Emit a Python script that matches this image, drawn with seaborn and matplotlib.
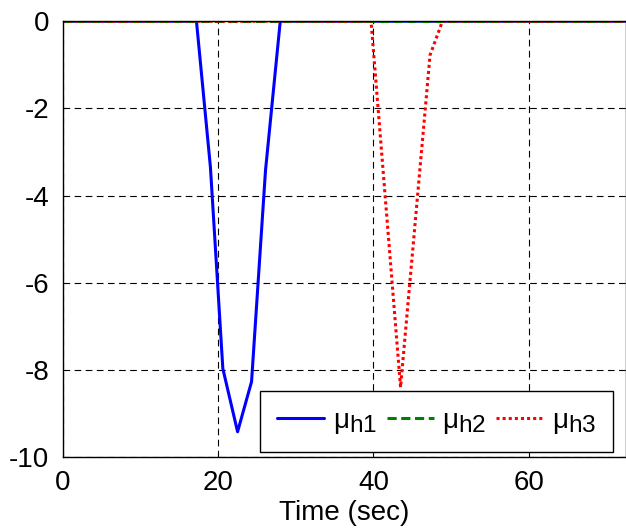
"""Recreate mu_h time response chart"""

import pandas as pd
import seaborn as sns
import matplotlib.pyplot as plt
import matplotlib._mathtext as mathtext_internal

# data
t_end = 72.6
time_h1 = [0, 17.2, 19.0, 20.6, 22.5, 24.3, 26.1, 28.0, t_end]
mu_h1 = [0, 0, -3.35, -7.97, -9.42, -8.27, -3.42, 0, 0]
time_h2 = [0, t_end]
mu_h2 = [0, 0]
time_h3 = [0, 39.7, 43.5, 47.3, 48.9, t_end]
mu_h3 = [0, 0, -8.4, -0.78, 0, 0]
labels = [r"$\mathregular{\mu_{h1}}$", r"$\mathregular{\mu_{h2}}$", r"$\mathregular{\mu_{h3}}$"]

# larger subscripts, like the MATLAB legend
mathtext_internal.SHRINK_FACTOR = 0.88

sns.set_theme(style="white")
plt.rcParams["font.family"] = ["Liberation Sans", "DejaVu Sans"]
plt.rcParams["mathtext.fontset"] = "custom"
plt.rcParams["mathtext.rm"] = "Liberation Sans"
plt.rcParams["mathtext.it"] = "Liberation Sans"
plt.rcParams["axes.unicode_minus"] = False
plt.rcParams["text.color"] = "black"
plt.rcParams["axes.labelcolor"] = "black"
plt.rcParams["xtick.color"] = "black"
plt.rcParams["ytick.color"] = "black"

df = pd.concat(
    [
        pd.DataFrame({"t": time_h1, "mu": mu_h1, "series": labels[0]}),
        pd.DataFrame({"t": time_h2, "mu": mu_h2, "series": labels[1]}),
        pd.DataFrame({"t": time_h3, "mu": mu_h3, "series": labels[2]}),
    ]
)

fig = plt.figure(figsize=(6.26, 5.29), dpi=100)
ax = fig.add_axes([0.1006, 0.136, 0.9, 0.824])

styles = {
    labels[0]: ("#0000ff", "-"),
    labels[1]: ("#008000", (0, (3, 1.5))),
    labels[2]: ("#ff0000", (0, (1, 1))),
}
for name, (color, ls) in styles.items():
    sns.lineplot(
        data=df[df["series"] == name],
        x="t",
        y="mu",
        color=color,
        linestyle=ls,
        linewidth=2.2,
        label=name,
        ax=ax,
        sort=False,
        estimator=None,
    )

ax.set_xlim(0, t_end)
ax.set_ylim(-10, 0)
ax.set_xticks([0, 20, 40, 60])
ax.set_yticks([0, -2, -4, -6, -8, -10])
ax.grid(True, color="black", linestyle=(0, (6, 4)), linewidth=0.8)
ax.tick_params(labelsize=20, direction="in", length=5, color="black")
ax.tick_params(axis="x", pad=9)
ax.tick_params(axis="y", pad=10)
for side in ax.spines.values():
    side.set_color("black")
    side.set_linewidth(1.0)

ax.set_xlabel("Time (sec)", fontsize=20, labelpad=3)
ax.set_ylabel("")

ax.legend(
    loc="lower right",
    ncol=3,
    fontsize=20,
    frameon=True,
    fancybox=False,
    edgecolor="black",
    framealpha=1,
    handlelength=1.7,
    handletextpad=0.3,
    columnspacing=0.35,
    borderpad=0.6,
    borderaxespad=0,
    bbox_to_anchor=(0.976, 0.011),
)

fig.savefig("out.png", dpi=100)
